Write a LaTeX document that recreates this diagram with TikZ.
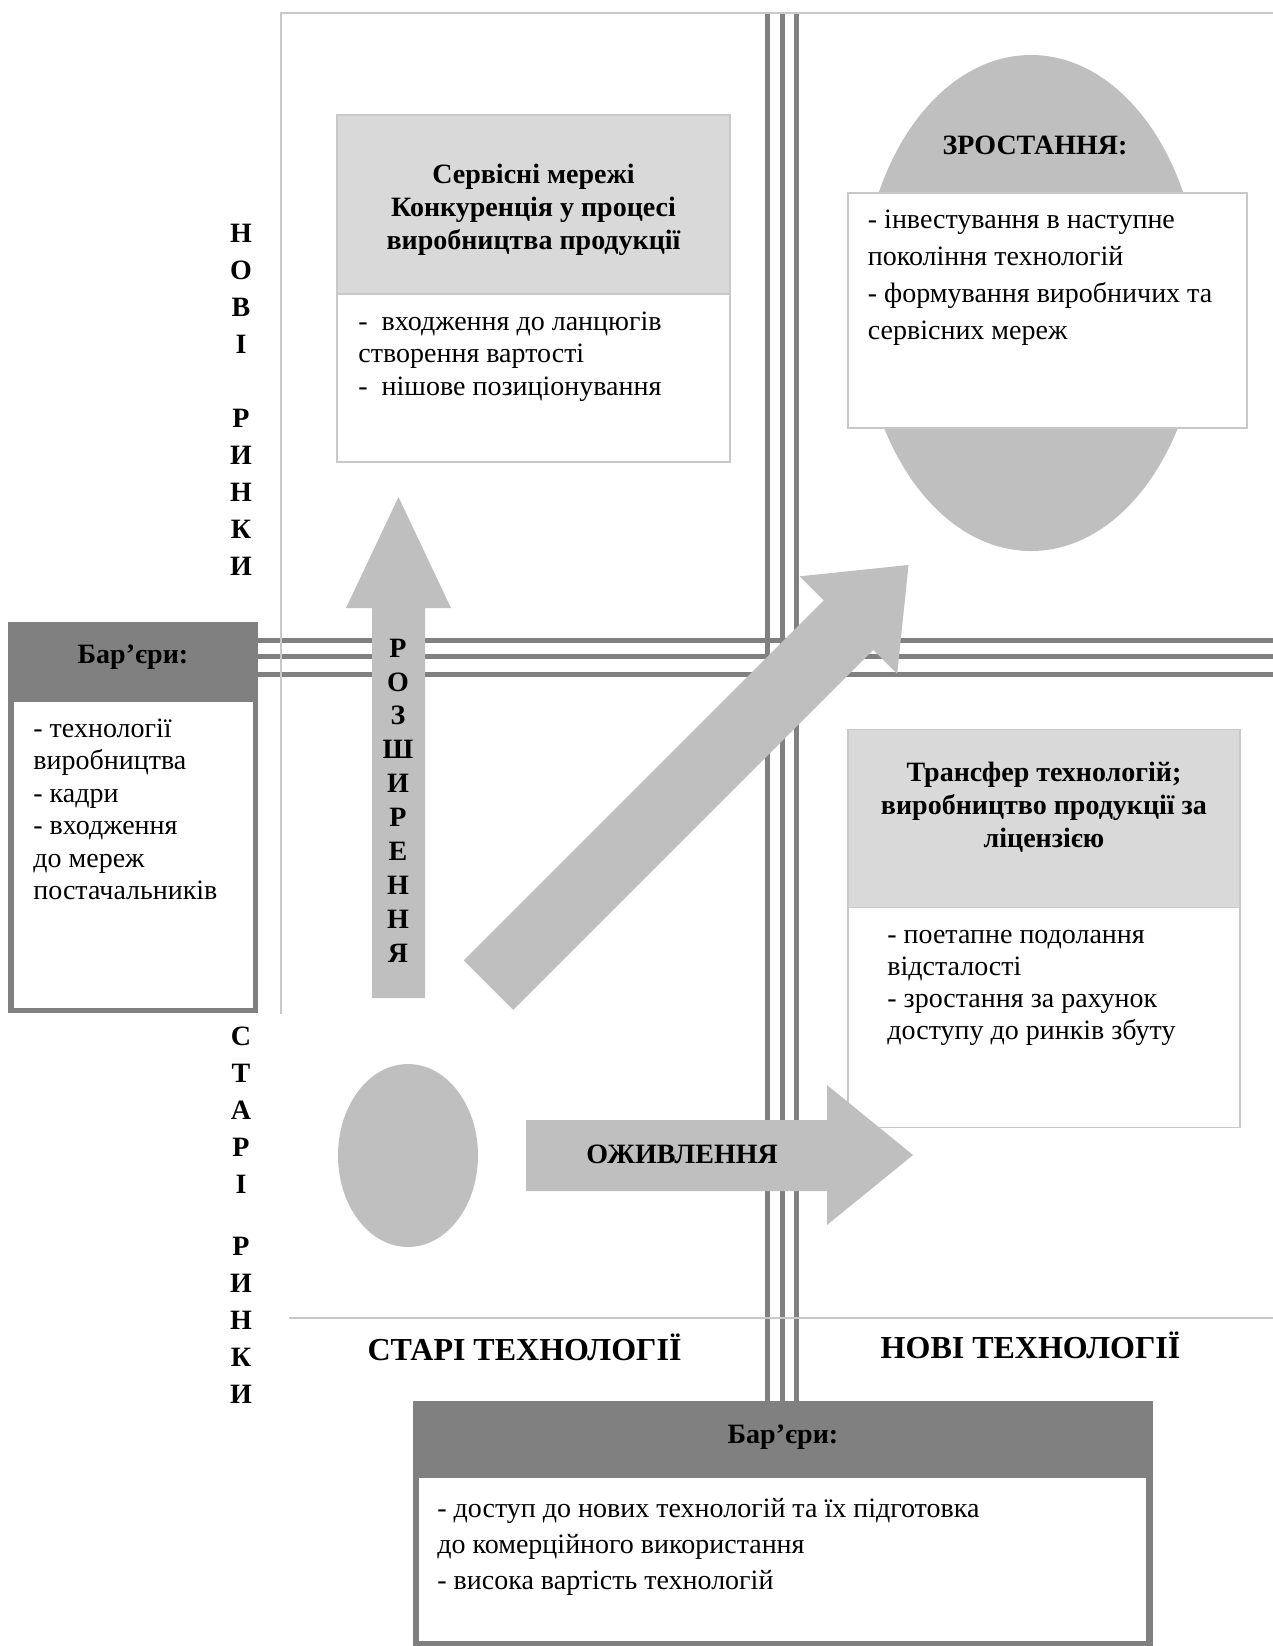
\documentclass[tikz,border=0pt]{standalone}
\usepackage{fontspec}
\setmainfont{Liberation Serif}
\definecolor{linegray}{HTML}{808080}
\definecolor{framegray}{HTML}{C8C8C8}
\definecolor{shapegray}{HTML}{BFBFBF}
\definecolor{headgray}{HTML}{D9D9D9}
\begin{document}
\begin{tikzpicture}[x=0.5pt,y=-0.5pt,
  tripleline/.style={linegray,line width=2.5pt},
  thinframe/.style={framegray,line width=1pt},
  boxhead/.style={draw=framegray,line width=0.75pt,fill=headgray},
  boxbody/.style={draw=framegray,line width=0.75pt,fill=white},
  bodytext/.style={anchor=north west,inner sep=0pt,align=left,font=\fontsize{14}{16.25}\selectfont},
  headtext/.style={inner sep=0pt,align=center,font=\fontsize{14}{16.5}\selectfont\bfseries},
  lettercol/.style={inner sep=0pt,align=center,font=\fontsize{14}{18.5}\selectfont\bfseries}]
\useasboundingbox (0,0) rectangle (1273,1646);
% axes: triple lines and thin frame
\foreach \x in {767.5,782,796}
  \draw[tripleline] (\x,13) -- (\x,1401);
\foreach \y in {640,656,674}
  \draw[tripleline] (258,\y) -- (1273,\y);
\draw[thinframe] (281,1014) -- (281,12.5) -- (1273,12.5);
\draw[thinframe] (289,1318) -- (1273,1318);
%
\node[lettercol] (newmarkets) at (241,400) {Н\\О\\В\\І\\[18.5pt]Р\\И\\Н\\К\\И};
\node[lettercol] (oldmarkets) at (241,1215) {С\\Т\\А\\Р\\І\\[12.5pt]Р\\И\\Н\\К\\И};
\node[inner sep=0pt,font=\fontsize{16}{19}\selectfont\bfseries] (oldtech) at (524.5,1347) {СТАРІ ТЕХНОЛОГІЇ};
\node[inner sep=0pt,font=\fontsize{16}{19}\selectfont\bfseries] (newtech) at (1030.5,1345) {НОВІ ТЕХНОЛОГІЇ};
% top left quadrant
\draw[boxhead] (337,115) rectangle (730,294);
\draw[boxbody] (337,294) rectangle (730,462);
\node[headtext] (services) at (533.5,210) {Сервісні мережі\\Конкуренція у процесі\\виробництва продукції};
\node[bodytext] (servlist) at (358,307) {\strut-~ входження до ланцюгів\\створення вартості\\-~ нішове позиціонування};
% top right quadrant
\fill[shapegray] (1031,303) ellipse [x radius=170, y radius=248];
\draw[boxbody] (848,193) rectangle (1247,428);
\node[headtext] (growth) at (1035,145) {ЗРОСТАННЯ:};
\node[bodytext,font=\fontsize{14}{18.5}\selectfont] (growthlist) at (867.5,202) {\strut- інвестування в наступне\\покоління технологій\\- формування виробничих та\\сервісних мереж};
% bottom right quadrant
\draw[boxhead] (848,729.5) rectangle (1240,907.5);
\draw[boxbody] (848,907.5) rectangle (1240,1127.5);
\node[headtext] (transfer) at (1044,807) {Трансфер технологій;\\виробництво продукції за\\ліцензією};
\node[bodytext,font=\fontsize{14}{16}\selectfont] (transferlist) at (887,921) {\strut- поетапне подолання\\відсталості\\- зростання за рахунок\\доступу до ринків збуту};
% left barriers
\fill[linegray] (8,622) rectangle (258,1013);
\fill[white] (14,702) rectangle (253,1008);
\node[headtext] (barleft) at (133,657) {Бар’єри:};
\node[bodytext] (barleftlist) at (33,714) {\strut- технології\\виробництва\\- кадри\\- входження\\до мереж\\постачальників};
% bottom barriers
\fill[linegray] (413,1401) rectangle (1153,1646);
\fill[white] (419,1478) rectangle (1146,1641);
\node[headtext] (barbottom) at (783,1437) {Бар’єри:};
\node[bodytext,font=\fontsize{14}{18}\selectfont] (barbottomlist) at (437,1492) {\strut- доступ до нових технологій та їх підготовка\\до комерційного використання\\- висока вартість технологій};
% arrows
\fill[shapegray] (408,1155.5) ellipse [x radius=70, y radius=91.5];
\fill[shapegray] (372,998) -- (372,608) -- (346,608) -- (398.5,497) -- (451,608) -- (425,608) -- (425,998) -- cycle;
\node[lettercol,font=\fontsize{14}{16.95}\selectfont\bfseries] (expansion) at (398,800.5) {Р\\О\\З\\Ш\\И\\Р\\Е\\Н\\Н\\Я};
\begin{scope}[shift={(488.5,985)},rotate=45]
\fill[shapegray] (0,-35) -- (509,-35) -- (509,-69) -- (594,0) -- (509,69) -- (509,35) -- (0,35) -- cycle;
\end{scope}
\fill[shapegray] (526,1120) -- (827,1120) -- (827,1085) -- (913,1155) -- (827,1225) -- (827,1191) -- (526,1191) -- cycle;
\node[inner sep=0pt,font=\fontsize{14}{17}\selectfont\bfseries] (revival) at (682,1154) {ОЖИВЛЕННЯ};
\end{tikzpicture}
\end{document}
